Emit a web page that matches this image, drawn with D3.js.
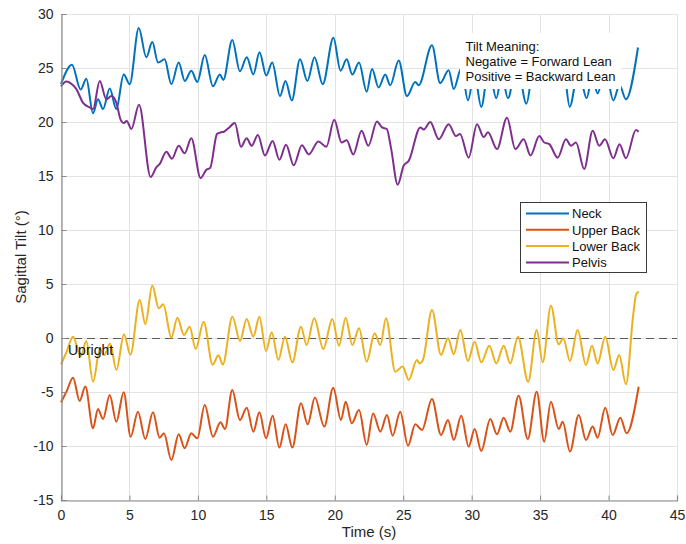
<!DOCTYPE html>
<html>
<head>
<meta charset="utf-8">
<script src="https://cdn.jsdelivr.net/npm/d3@7"></script>
<style>
  html, body { margin: 0; padding: 0; background: #fff; }
  svg { display: block; font-family: "Liberation Sans", Arial, Helvetica, sans-serif; }
</style>
</head>
<body>
<svg id="chart" width="686" height="544"></svg>
<script>
// ---- Data (time in s, sagittal tilt in degrees, peaks/troughs) ----
const xTicks = [0, 5, 10, 15, 20, 25, 30, 35, 40, 45];
const yTicks = [-15, -10, -5, 0, 5, 10, 15, 20, 25, 30];
const seriesNames = ["Neck", "Upper Back", "Lower Back", "Pelvis"];
const seriesColors = ["#0072BD", "#D95319", "#EDB120", "#7E2F8E"];
const annotationLines = ["Tilt Meaning:", "Negative = Forward Lean", "Positive = Backward Lean"];
const uprightLabel = "Upright";

const neck = [[0,23.5],[0.8,25.3],[1.44,23.0],[1.85,24.0],[2.34,20.8],[2.7,22.1],[3.07,21.2],[3.56,23.1],[4.04,21.2],[4.58,24.4],[5.02,23.5],[5.68,28.7],[6.23,26.0],[6.67,27.4],[7.09,25.5],[7.57,25.8],[8.06,23.5],[8.6,25.5],[9.04,23.8],[9.52,24.75],[9.96,23.7],[10.5,26.2],[11.1,23.3],[11.6,24.4],[11.86,23.9],[12.51,27.6],[13.07,24.7],[13.57,26.0],[14.05,24.4],[14.5,26.45],[15.0,24.3],[15.43,25.5],[16.0,22.4],[16.4,23.8],[16.86,22.0],[17.46,25.8],[18.0,23.8],[18.52,26.0],[19.12,23.5],[19.9,27.8],[20.42,24.75],[20.87,25.8],[21.28,24.4],[21.77,25.5],[22.33,22.8],[22.72,24.9],[23.2,23.2],[23.69,24.4],[24.05,23.4],[24.67,25.7],[25.27,22.4],[25.88,23.7],[26.13,23.4],[27.1,27.1],[27.7,23.6],[28.32,24.8],[28.69,23.05],[29.25,25.0],[29.73,22.0],[30.2,24.5],[30.7,21.4],[31.25,25.0],[31.8,22.2],[32.2,24.3],[32.65,22.2],[33.3,25.5],[34.0,21.7],[34.55,25.2],[35.1,23.5],[35.7,26.3],[36.3,23.8],[36.7,25.0],[37.16,21.4],[37.8,24.8],[38.4,22.2],[38.8,24.2],[39.2,22.65],[39.75,25.0],[40.35,22.0],[40.8,23.4],[41.27,22.1],[42.15,26.9]];

const upperBack = [[0,-5.96],[0.4,-4.97],[0.88,-3.67],[1.36,-5.83],[1.78,-4.5],[2.34,-8.36],[2.7,-6.57],[3.07,-7.5],[3.56,-5.28],[4.04,-7.75],[4.58,-5.03],[5.09,-9.14],[5.62,-6.82],[6.16,-9.35],[6.72,-6.88],[7.2,-9.23],[7.52,-8.82],[8.06,-11.3],[8.6,-8.92],[9.03,-10.2],[9.52,-8.82],[9.96,-9.29],[10.5,-6.2],[11.1,-9.14],[11.65,-7.8],[11.98,-8.43],[12.51,-4.81],[13.07,-7.59],[13.57,-6.45],[14.05,-8.67],[14.49,-6.88],[14.98,-9.29],[15.46,-7.19],[15.95,-10.15],[16.41,-7.99],[16.9,-10.15],[17.53,-6.05],[18.02,-7.99],[18.55,-5.52],[19.23,-8.2],[19.89,-4.6],[20.45,-7.59],[20.8,-5.9],[21.24,-7.9],[21.77,-6.67],[22.33,-9.9],[22.8,-6.98],[23.33,-8.67],[23.81,-7.13],[24.23,-9.04],[24.78,-6.82],[25.35,-9.97],[25.88,-7.99],[26.37,-8.52],[27.1,-5.65],[27.76,-8.98],[28.27,-7.59],[28.69,-9.44],[29.24,-7.19],[29.78,-10.06],[30.22,-8.43],[30.7,-10.46],[31.36,-7.5],[31.85,-8.92],[32.34,-7.38],[32.82,-8.67],[33.43,-5.34],[34.1,-9.35],[34.75,-4.97],[35.3,-9.6],[35.79,-5.9],[36.36,-8.43],[36.65,-7.75],[37.18,-10.52],[37.82,-7.13],[38.35,-9.44],[38.84,-8.2],[39.2,-9.23],[39.76,-6.45],[40.3,-8.98],[40.86,-7.38],[41.32,-8.82],[42.2,-4.51]];

const lowerBack = [[0,-2.45],[0.4,-1.3],[0.88,0.12],[1.24,-1.1],[1.44,-1.7],[1.85,-0.3],[2.34,-4.05],[2.85,-1.0],[3.15,-1.6],[3.58,-0.5],[4.05,-2.96],[4.6,0.34],[5.07,-1.55],[5.75,3.52],[6.16,1.27],[6.67,4.85],[7.14,2.75],[7.47,3.12],[8.06,0.03],[8.5,1.88],[8.98,0.28],[9.4,1.05],[9.84,-1.02],[10.42,1.51],[11.08,-2.47],[11.5,-1.6],[11.82,-2.47],[12.52,1.97],[13.08,-0.28],[13.56,1.76],[14.05,0.12],[14.49,1.97],[14.98,-1.2],[15.39,0.53],[15.88,-2.04],[16.36,0.12],[16.9,-2.25],[17.53,1.05],[17.94,-0.65],[18.5,1.82],[19.16,-1.02],[19.82,1.76],[20.31,-0.71],[20.8,1.88],[21.28,-0.65],[21.77,0.9],[22.33,-2.19],[22.91,0.43],[23.33,-0.65],[23.74,1.82],[24.42,-3.12],[24.96,-2.65],[25.4,-3.89],[26.0,-2.04],[26.2,-2.35],[26.45,-2.0],[27.1,2.59],[27.76,-1.57],[28.27,-0.03],[28.69,-1.51],[29.17,0.74],[29.73,-2.13],[30.22,-0.34],[30.7,-2.25],[31.29,-0.71],[31.8,-2.35],[32.34,-0.71],[32.82,-2.35],[33.38,0.12],[34.13,-4.05],[34.75,0.74],[35.19,-2.25],[35.79,2.99],[36.36,-0.59],[36.69,-0.03],[37.18,-2.13],[37.74,0.74],[38.35,-2.5],[38.79,-0.71],[39.2,-2.35],[39.76,0.12],[40.35,-2.96],[40.78,-1.57],[41.27,-4.29],[41.8,2.13],[42.0,3.98],[42.2,4.29]];

const pelvis = [[0,23.3],[0.39,23.75],[0.88,23.4],[1.12,23.05],[1.6,21.8],[2.1,21.35],[2.34,21.2],[2.83,23.8],[3.31,22.1],[3.68,22.4],[4.04,21.8],[4.36,20.2],[4.6,19.9],[4.8,20.1],[5.14,19.35],[5.7,21.6],[6.55,14.9],[6.96,15.8],[7.2,16.1],[7.7,17.25],[8.1,16.6],[8.6,17.8],[9.03,17.1],[9.52,18.5],[10.2,14.8],[10.6,15.55],[10.9,15.75],[11.4,18.9],[11.7,19.05],[11.9,19.1],[12.25,19.45],[12.7,19.9],[13.15,17.7],[13.56,18.5],[13.93,17.8],[14.38,18.8],[14.9,16.9],[15.46,18.25],[15.95,16.5],[16.44,17.9],[17.0,16.0],[17.6,17.85],[18.1,17.0],[18.8,18.2],[19.38,17.7],[19.96,20.2],[20.5,18.1],[20.87,18.3],[21.35,17.0],[21.96,19.2],[22.45,17.8],[23.08,20.05],[23.45,19.5],[23.8,19.35],[24.1,17.65],[24.6,14.2],[25.03,15.95],[25.4,16.4],[26.25,19.5],[26.5,19.3],[26.97,20.0],[27.6,18.4],[28.32,19.8],[28.85,18.7],[29.15,18.9],[29.78,16.7],[30.39,19.8],[30.88,18.6],[31.19,19.05],[31.85,17.5],[32.58,20.4],[33.19,17.5],[33.8,18.4],[34.3,16.9],[34.94,18.7],[35.3,18.1],[35.67,17.95],[36.28,16.7],[36.89,18.4],[37.25,17.8],[37.62,18.1],[38.22,15.65],[38.84,19.2],[39.32,17.8],[39.74,18.4],[40.35,16.65],[40.8,17.95],[41.27,16.65],[42.0,19.25],[42.2,19.1]];

const seriesData = [neck, upperBack, lowerBack, pelvis];

// ---- Layout ----
const margin = { left: 61, right: 9, top: 14, bottom: 44 };
const W = 686, H = 544;
const svg = d3.select("#chart");

const x = d3.scaleLinear().domain([0, 45]).range([margin.left, W - margin.right]);
const y = d3.scaleLinear().domain([-15, 30]).range([H - margin.bottom, margin.top]);

const x0 = x.range()[0], x1 = x.range()[1];
const y0 = y.range()[0], y1 = y.range()[1];

// grid
const grid = svg.append("g").attr("stroke", "#e3e3e3").attr("stroke-width", 1);
grid.selectAll(".gx").data(xTicks).join("line")
  .attr("x1", d => Math.round(x(d)) + 0.5).attr("x2", d => Math.round(x(d)) + 0.5)
  .attr("y1", y1).attr("y2", y0);
grid.selectAll(".gy").data(yTicks).join("line")
  .attr("y1", d => Math.round(y(d)) + 0.5).attr("y2", d => Math.round(y(d)) + 0.5)
  .attr("x1", x0).attr("x2", x1);

// zero reference (dashed)
svg.append("line")
  .attr("x1", x0).attr("x2", x1)
  .attr("y1", Math.round(y(0)) + 0.5).attr("y2", Math.round(y(0)) + 0.5)
  .attr("stroke", "#5a5a5a").attr("stroke-width", 1)
  .attr("stroke-dasharray", "8,5");

// series
const line = d3.line().x(d => x(d[0])).y(d => y(d[1])).curve(d3.curveMonotoneX);
svg.append("g").selectAll("path").data(seriesData).join("path")
  .attr("d", line)
  .attr("fill", "none")
  .attr("stroke", (d, i) => seriesColors[i])
  .attr("stroke-width", 2)
  .attr("stroke-linejoin", "round");

// axes
const xAxis = d3.axisBottom(x).tickValues(xTicks).tickSize(-5).tickPadding(10).tickFormat(d3.format("d"));
const yAxis = d3.axisLeft(y).tickValues(yTicks).tickSize(-5).tickPadding(8).tickFormat(d => d < 0 ? "-" + Math.abs(d) : String(d));

const gx = svg.append("g").attr("transform", `translate(0,${y0 + 0.5})`).call(xAxis);
const gy = svg.append("g").attr("transform", `translate(${x0 + 0.5},0)`).call(yAxis);
[gx, gy].forEach(g => {
  g.select(".domain").attr("stroke", "#8a8a8a").attr("stroke-width", 1.2);
  g.selectAll(".tick line").attr("stroke", "#8a8a8a");
  g.selectAll(".tick text").attr("fill", "#262626").style("font-size", "14px")
    .style("font-family", '"Liberation Sans", Arial, sans-serif');
});

// axis labels
svg.append("text")
  .attr("x", (x0 + x1) / 2).attr("y", 537)
  .attr("text-anchor", "middle").attr("fill", "#262626")
  .style("font-size", "15px").text("Time (s)");
svg.append("text")
  .attr("transform", `translate(26,${(y0 + y1) / 2}) rotate(-90)`)
  .attr("text-anchor", "middle").attr("fill", "#262626")
  .style("font-size", "15px").text("Sagittal Tilt (°)");

// "Upright" label
svg.append("text")
  .attr("x", 68).attr("y", 355)
  .attr("fill", "#111").style("font-size", "14px").text(uprightLabel);

// annotation with white background
const ann = svg.append("g");
ann.append("rect").attr("x", 460).attr("y", 33).attr("width", 161).attr("height", 56).attr("fill", "#fff");
ann.selectAll("text").data(annotationLines).join("text")
  .attr("x", 465.5).attr("y", (d, i) => 51 + i * 15)
  .attr("fill", "#111").style("font-size", "13px").text(d => d);

// legend
const lg = svg.append("g");
lg.append("rect").attr("x", 520.5).attr("y", 202.5).attr("width", 126).attr("height", 70)
  .attr("fill", "#fff").attr("stroke", "#3a3a3a").attr("stroke-width", 1);
const rowY = i => 213.5 + i * 16.3;
lg.selectAll("line").data(seriesNames).join("line")
  .attr("x1", 526).attr("x2", 569)
  .attr("y1", (d, i) => rowY(i)).attr("y2", (d, i) => rowY(i))
  .attr("stroke", (d, i) => seriesColors[i]).attr("stroke-width", 2);
lg.selectAll("text").data(seriesNames).join("text")
  .attr("x", 572).attr("y", (d, i) => rowY(i) + 4.7)
  .attr("fill", "#111").style("font-size", "13px").text(d => d);
</script>
</body>
</html>
